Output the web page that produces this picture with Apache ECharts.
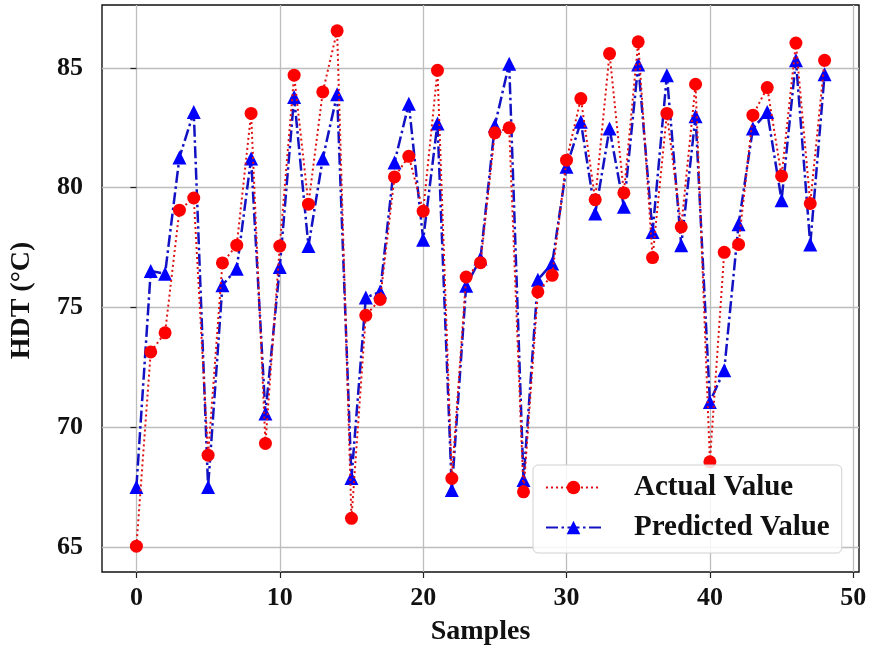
<!DOCTYPE html>
<html>
<head>
<meta charset="utf-8">
<script src="https://cdn.jsdelivr.net/npm/echarts@6/dist/echarts.min.js"></script>
<style>html,body{margin:0;padding:0;background:#fff;}#c{width:872px;height:652px;}</style>
</head>
<body>
<div id="c"></div>
<script>
const samples = [0,1,2,3,4,5,6,7,8,9,10,11,12,13,14,15,16,17,18,19,20,21,22,23,24,25,26,27,28,29,30,31,32,33,34,35,36,37,38,39,40,41,42,43,44,45,46,47,48];
const actual = [65.03,73.14,73.94,79.06,79.57,68.83,76.86,77.6,83.1,69.32,77.56,84.7,79.31,84.0,86.55,66.19,74.67,75.33,80.45,81.31,79.02,84.9,67.86,76.27,76.87,82.29,82.5,67.3,75.65,76.34,81.15,83.72,79.5,85.6,79.78,86.09,77.08,83.1,78.36,84.32,68.55,77.3,77.63,83.03,84.18,80.49,86.04,79.34,85.32];
const predicted = [67.5,76.52,76.41,81.26,83.16,67.5,75.93,76.62,81.22,70.57,76.69,83.79,77.56,81.22,83.9,67.88,75.41,75.65,81.05,83.51,77.83,82.68,67.37,75.9,77.04,82.6,85.18,67.79,76.16,76.83,80.87,82.75,78.92,82.47,79.2,85.15,78.15,84.7,77.6,82.98,71.05,72.38,78.47,82.47,83.16,79.48,85.32,77.63,84.74];
const xTicks = [0,10,20,30,40,50];
const yTicks = [65,70,75,80,85];
const seriesNames = ['Actual Value','Predicted Value'];

const FONT = 'Liberation Serif';
const chart = echarts.init(document.getElementById('c'));
chart.setOption({
  animation: false,
  backgroundColor: '#fff',
  grid: {left: 101, top: 5, right: 13, bottom: 80, show: true, borderColor: '#111', borderWidth: 1.4, backgroundColor: 'transparent'},
  xAxis: {
    type: 'value', min: -2.4, max: 50.4, splitNumber: 5,
    name: 'Samples', nameLocation: 'middle', nameGap: 46,
    nameTextStyle: {fontFamily: FONT, fontWeight: 'bold', fontSize: 28, color: '#111'},
    axisLine: {show: false},
    axisTick: {show: true, length: 6, lineStyle: {color: '#222', width: 1.2},
      interval: (i, v) => true},
    axisLabel: {showMinLabel: false, showMaxLabel: false, margin: 13, fontFamily: FONT, fontWeight: 'bold', fontSize: 26, color: '#111',
      formatter: v => xTicks.includes(v) ? String(v) : ''},
    splitLine: {show: true, showMinLine: false, showMaxLine: false, lineStyle: {color: '#bdbdbd', width: 1.3}}
  },
  yAxis: {
    type: 'value', min: 63.95, max: 87.63, splitNumber: 5,
    name: 'HDT (°C)', nameLocation: 'middle', nameGap: 66,
    nameTextStyle: {fontFamily: FONT, fontWeight: 'bold', fontSize: 28, color: '#111', padding: [0, 24, 0, 0]},
    axisLine: {show: false},
    axisTick: {show: true, length: 6, lineStyle: {color: '#222', width: 1.2}},
    axisLabel: {showMinLabel: false, showMaxLabel: false, margin: 19, fontFamily: FONT, fontWeight: 'bold', fontSize: 26, color: '#111',
      formatter: v => yTicks.includes(v) ? String(v) : ''},
    splitLine: {show: true, showMinLine: false, showMaxLine: false, lineStyle: {color: '#bdbdbd', width: 1.3}}
  },
  legend: {
    data: seriesNames,
    orient: 'vertical', left: 533, top: 465,
    padding: [8, 12, 11, 12],
    itemWidth: 55, itemHeight: 17, itemGap: 11,
    backgroundColor: 'rgba(255,255,255,0.85)', borderColor: '#d0d0d0', borderWidth: 1, borderRadius: 5,
    textStyle: {fontFamily: FONT, fontWeight: 'bold', fontSize: 29, color: '#111', lineHeight: 29, padding: [0, 0, 0, 28]}
  },
  series: [
    {
      name: seriesNames[1], type: 'line', z: 2,
      data: samples.map((s, i) => [s, predicted[i]]),
      symbol: 'triangle', symbolSize: 14,
      itemStyle: {color: '#0000ff'},
      lineStyle: {color: '#1212c4', width: 2.5, type: [12, 3.5, 2.5, 3.5]}
    },
    {
      name: seriesNames[0], type: 'line', z: 3,
      data: samples.map((s, i) => [s, actual[i]]),
      symbol: 'circle', symbolSize: 13,
      itemStyle: {color: '#ff0000'},
      lineStyle: {color: '#e01010', width: 2, type: [2, 3]}
    }
  ]
});
</script>
</body>
</html>
